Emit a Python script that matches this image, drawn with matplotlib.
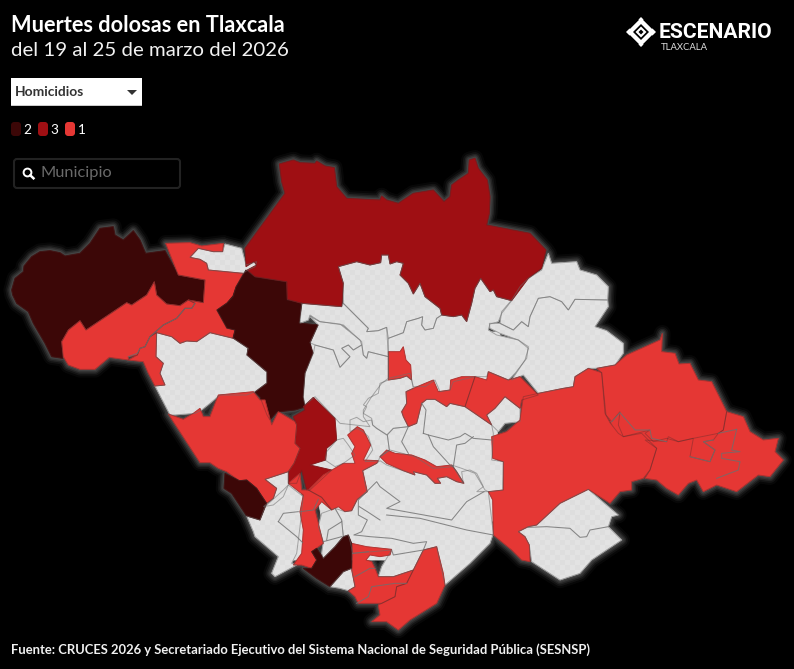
import numpy as np
import matplotlib
matplotlib.use("Agg")
import matplotlib.pyplot as plt
from matplotlib.path import Path
from matplotlib.patches import PathPatch, Polygon, Rectangle, FancyBboxPatch, Circle

TITLE = "Muertes dolosas en Tlaxcala"
SUBTITLE = "del 19 al 25 de marzo del 2026"
SOURCE = "Fuente: CRUCES 2026 y Secretariado Ejecutivo del Sistema Nacional de Seguridad Pública (SESNSP)"
DROPDOWN = "Homicidios"
SEARCH = "Municipio"
LEGEND_VALUES = [2, 3, 1]
COLORS = {2: "#3c0707", 3: "#9f0f13", 1: "#e53734", 0: "#dedede"}
ORIG = {"a": (0, 140), "b": (240, 140), "c": (480, 240), "d": (150, 390), "e": (280, 440), "h": (300, 300), "p": (0, 0)}

# interior fill under the municipalities: (crop, class, outline)
UNDERLAY = [
 ("p", 0, [(312,332),(500,332),(495,520),(400,560),(330,560),(308,450)]),
 ("p", 0, [(278,490),(300,480),(305,560),(290,560)]),
 ("c", 1, [(370,500),(740,520),(730,600),(640,650),(530,640),(420,600)]),
 ("c", 1, [(630,590),(740,530),(785,630),(720,705),(640,700),(630,650)]),
]

# map regions: (crop, homicide class, outline)
REGIONS = [
 ("a", 0, [(570,352),(595,325),(640,335),(668,335),(675,312),(725,325),(738,375),(770,365),(765,380),(740,392),(730,400),(625,390),(620,370),(600,358)]),
 ("a", 0, [(470,578),(515,590),(540,610),(560,603),(590,605),(630,578),(700,595),(745,625),(740,645),(800,695),(800,730),(765,755),(740,765),(660,765),(630,790),(605,810),(585,820),(525,825),(510,825),(465,738),(495,735),(480,700),(490,670),(468,650)]),
 ("b", 0, [(295,380),(350,365),(390,375),(422,368),(425,345),(445,345),(450,372),(470,365),(490,370),(480,405),(505,430),(520,462),(540,430),(555,470),(600,505),(605,525),(590,535),(580,565),(555,570),(545,555),(548,530),(535,535),(500,545),(490,578),(445,595),(440,562),(415,572),(380,575),(385,565),(365,545),(310,490),(310,430)]),
 ("b", 0, [(305,500),(310,490),(365,545),(385,565),(380,575),(415,572),(440,562),(445,650),(385,635),(380,655),(370,645),(365,605),(310,555),(240,545),(210,525),(205,540),(180,550),(185,490)]),
 ("b", 0, [(210,530),(240,545),(300,552),(360,600),(365,615),(340,630),(325,615),(305,625),(330,650),(300,682),(280,630),(225,615),(210,608),(235,555)]),
 ("b", 0, [(225,615),(280,630),(300,682),(330,650),(305,625),(325,615),(340,630),(365,615),(370,645),(380,655),(385,635),(445,650),(445,715),(425,730),(395,770),(370,810),(370,830),(390,860),(300,850),(225,770),(195,795),(190,770),(195,700),(220,640)]),
 ("b", 0, [(445,595),(490,578),(500,545),(535,535),(548,530),(545,555),(555,570),(580,565),(590,535),(605,525),(640,530),(665,525),(680,545),(695,490),(705,445),(722,415),(750,455),(760,450),(770,470),(815,482),(785,520),(775,545),(750,552),(745,570),(770,585),(835,600),(865,620),(860,655),(825,700),(805,720),(745,695),(740,710),(705,710),(640,725),(630,750),(600,755),(585,720),(555,740),(520,740),(510,700),(445,715),(445,650)]),
 ("c", 0, [(60,250),(65,215),(95,180),(120,140),(145,115),(185,90),(205,40),(215,70),(290,65),(300,90),(350,105),(385,140),(383,180),(285,178),(265,210),(245,185),(210,170),(175,175),(150,230),(145,260),(125,245),(100,270)]),
 ("c", 0, [(175,175),(210,170),(245,185),(265,210),(285,178),(383,180),(385,200),(345,260),(380,272),(430,310),(430,340),(405,375),(350,385),(325,385),(285,410),(280,440),(250,445),(175,460),(130,405),(95,420),(135,360),(145,325),(115,300),(60,280),(30,265),(28,250),(60,250),(100,270),(125,245),(145,260),(150,230)]),
 ("h", 0, [(265,240),(300,235),(320,228),(335,240),(340,265),(318,275),(320,310),(305,335),(310,350),(325,380),(280,385),(260,405),(230,385),(218,375),(215,355),(190,340),(200,320),(190,315),(205,295),(235,280),(240,250)]),
 ("h", 0, [(150,360),(170,352),(190,365),(215,360),(218,375),(230,385),(262,405),(268,450),(240,470),(235,483),(195,485),(218,450),(205,410),(190,395),(170,385),(150,395)]),
 ("h", 0, [(80,455),(110,420),(130,415),(145,435),(165,465),(130,490),(105,500),(75,480)]),
 ("h", 0, [(615,290),(660,325),(660,365),(615,370),(595,395),(575,375),(560,345),(585,325)]),
 ("h", 0, [(262,405),(280,385),(325,380),(350,370),(365,310),(380,298),(405,298),(440,320),(450,310),(495,320),(575,375),(580,400),(575,480),(610,485),(608,570),(570,575),(530,575),(550,560),(530,520),(510,510),(485,515),(490,550),(460,500),(400,505),(345,470),(270,450),(240,470),(268,450)]),
 ("d", 0, [(345,268),(415,245),(415,285),(400,320),(370,345),(340,350),(370,325),(380,295)]),
 ("d", 0, [(290,378),(330,390),(345,350),(400,300),(415,285),(460,320),(455,360),(450,410),(440,490),(425,520),(440,525),(375,560),(365,550),(385,500),(315,440),(310,425),(295,390)]),
 ("e", 0, [(248,92),(290,70),(300,62),(320,75),(405,105),(400,95),(440,105),(465,130),(482,130),(472,115),(500,110),(530,125),(552,130),(530,95),(515,75),(545,85),(585,100),(615,150),(625,155),(640,280),(630,310),(600,340),(570,370),(495,435),(470,320),(430,330),(400,390),(340,410),(295,410),(305,380),(335,330),(218,340),(212,310),(205,285),(190,290),(185,240),(165,205),(195,215),(215,212),(232,178),(260,155)]),
 ("e", 0, [(165,205),(125,220),(115,260),(130,305),(125,340),(130,355),(165,320),(190,290),(185,240)]),
 ("e", 0, [(150,440),(190,395),(215,385),(225,440),(205,452),(180,445)]),
 ("c", 0, [(115,875),(145,860),(170,855),(240,790),(325,748),(415,825),(395,830),(385,860),(425,900),(335,960),(300,1000),(240,1020),(155,965),(148,915),(135,890)]),
 ("a", 2, [(35,450),(45,415),(70,395),(72,378),(95,350),(120,335),(150,332),(180,338),(195,348),(240,340),(270,310),(300,265),(340,260),(345,285),(370,300),(400,272),(420,300),(437,340),(495,332),(535,405),(615,420),(610,488),(565,480),(540,497),(500,492),(470,465),(463,425),(440,465),(395,495),(380,488),(258,570),(240,542),(205,570),(185,605),(188,655),(155,650),(135,610),(100,550),(85,515),(50,490),(38,465)]),
 ("a", 1, [(185,605),(205,570),(240,542),(258,570),(380,488),(395,495),(440,465),(463,425),(470,465),(500,492),(540,497),(565,480),(585,490),(575,505),(555,505),(530,535),(490,555),(450,590),(435,620),(420,625),(412,645),(385,650),(385,660),(328,652),(285,688),(240,688),(205,675),(190,650)]),
 ("a", 1, [(497,310),(570,308),(605,318),(670,310),(668,335),(640,335),(595,325),(570,352),(600,358),(620,370),(625,390),(730,400),(708,440),(700,470),(680,490),(650,510),(680,565),(705,570),(700,595),(630,578),(590,605),(560,603),(540,610),(515,590),(470,578),(450,590),(490,555),(530,535),(555,505),(575,505),(585,490),(565,480),(610,488),(615,420),(535,405)]),
 ("a", 1, [(450,590),(470,578),(468,650),(490,670),(480,700),(495,735),(465,738),(445,700),(430,665),(385,660),(412,645),(420,625),(435,620)]),
 ("p", 2, [(246,270),(255,277),(287,282),(287,300),(302,303),(299,323),(318,325),(310,343),(313,353),(305,373),(303,397),(305,407),(295,410),(277,412),(270,420),(267,415),(260,397),(255,392),(267,383),(267,372),(247,355),(248,348),(233,338),(235,330),(227,328),(217,310),(227,303),(233,296),(236,287)]),
 ("b", 3, [(118,72),(160,60),(180,68),(225,70),(230,63),(255,78),(283,83),(290,140),(320,175),(375,178),(420,180),(425,168),(440,180),(475,190),(520,160),(580,150),(612,185),(630,170),(635,135),(655,120),(685,100),(688,60),(705,55),(715,85),(742,120),(750,170),(748,220),(740,255),(870,280),(918,330),(905,385),(865,415),(815,482),(770,470),(760,450),(750,455),(722,415),(705,445),(695,490),(680,545),(665,525),(640,530),(605,525),(600,505),(555,470),(540,430),(520,462),(505,430),(480,405),(490,370),(470,365),(450,372),(445,345),(425,345),(422,368),(390,375),(350,365),(295,380),(310,430),(305,500),(185,490),(142,478),(140,425),(45,410),(22,390),(50,375),(42,365),(18,380),(15,325),(135,160),(125,125)]),
 ("h", 1, [(265,155),(300,155),(310,140),(318,180),(332,195),(335,240),(320,228),(300,235),(265,240)]),
 ("h", 1, [(340,265),(380,248),(400,240),(415,275),(450,270),(452,240),(485,230),(525,230),(495,320),(450,310),(440,320),(405,298),(380,298),(365,310),(350,370),(325,380),(310,350),(305,335),(320,310),(318,275)]),
 ("h", 1, [(525,230),(560,240),(565,215),(625,240),(660,230),(715,285),(665,300),(660,325),(615,290),(585,325),(560,345),(575,375),(495,320)]),
 ("c", 1, [(125,505),(130,470),(175,460),(250,445),(280,440),(285,410),(325,385),(365,398),(375,520),(390,548),(415,580),(430,590),(485,580),(520,615),(530,625),(510,690),(490,715),(455,725),(455,750),(420,755),(390,790),(325,748),(240,790),(170,855),(145,860),(115,875),(135,890),(148,915),(150,965),(125,960),(95,930),(40,885),(38,780),(25,755),(70,750),(70,665),(38,655),(35,590),(80,575),(120,540)]),
 ("c", 1, [(350,385),(405,375),(440,345),(540,300),(547,280),(545,335),(585,340),(597,372),(630,370),(655,420),(695,425),(740,515),(730,570),(715,580),(640,595),(595,605),(560,595),(520,605),(495,580),(510,570),(430,590),(415,555),(420,515),(395,545),(378,525),(365,398)]),
 ("c", 1, [(530,625),(495,600),(560,605),(565,590),(595,605),(640,595),(630,650),(690,665),(705,630),(670,605),(700,600),(715,580),(730,570),(740,515),(790,530),(810,575),(850,600),(895,595),(885,635),(910,660),(870,710),(835,705),(770,755),(710,735),(670,755),(650,720),(625,730),(595,765),(560,745),(530,720),(495,715),(510,690)]),
 ("d", 3, [(460,50),(490,22),(555,85),(560,150),(530,175),(527,210),(480,225),(545,240),(480,300),(470,300),(455,240),(440,280),(415,280),(415,245),(432,220),(450,175),(435,160),(440,105),(430,80),(465,60)]),
 ("d", 1, [(55,72),(100,88),(130,70),(150,55),(160,80),(180,80),(205,15),(310,5),(330,30),(345,30),(365,105),(385,65),(435,95),(440,105),(435,160),(450,175),(432,220),(415,245),(345,268),(380,295),(370,325),(350,340),(320,295),(290,270),(268,272),(230,245),(205,235),(180,218),(150,218)]),
 ("d", 2, [(225,250),(268,272),(290,270),(320,295),(350,340),(330,390),(290,378),(245,310),(222,295)]),
 ("e", 1, [(85,150),(130,105),(190,70),(225,70),(215,40),(225,20),(203,-15),(232,-40),(250,-30),(272,15),(250,60),(295,62),(290,70),(248,92),(262,155),(232,178),(215,212),(195,215),(175,200),(155,210),(125,172)]),
 ("e", 1, [(25,130),(60,100),(65,150),(85,150),(125,172),(155,210),(125,185),(105,210),(130,310),(95,335),(110,360),(95,385),(65,375),(40,375),(65,340),(70,270),(60,215),(70,165)]),
 ("e", 1, [(300,50),(320,30),(345,40),(395,45),(435,60),(470,80),(515,75),(530,95),(552,130),(530,125),(500,110),(472,115),(482,130),(465,130),(440,105),(400,95),(405,105),(370,92),(320,70)]),
 ("e", 1, [(215,310),(260,320),(335,328),(330,345),(300,350),(270,345),(258,360),(275,365),(285,385),(295,410),(340,410),(400,390),(380,430),(350,440),(345,470),(305,490),(235,490),(225,470),(205,452),(225,440),(215,390),(218,340)]),
 ("e", 1, [(430,330),(470,320),(490,400),(495,435),(470,490),(390,540),(355,570),(320,545),(275,545),(300,525),(295,495),(345,470),(350,440),(380,430),(400,390)]),
 ("e", 2, [(190,290),(205,285),(215,310),(215,385),(190,395),(150,440),(110,415),(70,385),(95,385),(110,360),(95,335),(110,325),(130,355),(165,320)]),
]

# interior boundaries: (crop, polyline)
BOUNDARIES = [
 ("c", [(145,862),(200,860),(270,865),(300,892),(320,890),(330,870),(385,860)]),
 ("c", [(395,545),(420,518),(465,570),(510,570),(515,595),(560,605)]),
 ("c", [(630,650),(690,665),(705,630),(670,605),(700,600)]),
 ("c", [(770,568),(755,630),(780,635),(725,640),(725,655),(780,665),(775,690),(710,715)]),
 ("c", [(715,580),(770,568)]),
 ("h", [(370,400),(385,405),(445,420),(480,410),(495,400),(520,415),(575,420)]),
 ("h", [(385,405),(400,440),(450,495),(460,500),(470,435),(495,430),(520,410)]),
 ("h", [(370,400),(378,330),(365,310)]),
 ("h", [(325,380),(305,425),(325,460)]),
 ("e", [(222,285),(245,275),(262,240),(235,225),(235,180),(290,125),(300,140),(360,185),(320,205),(515,240),(560,185),(612,155)]),
 ("e", [(320,225),(420,235),(560,270),(640,285)]),
 ("e", [(225,285),(270,290),(335,295),(400,310),(440,305),(430,330),(340,345),(335,330)]),
 ("e", [(238,200),(262,215),(300,240)]),
 ("e", [(140,300),(145,270),(185,245)]),
 ("e", [(130,305),(185,290)]),
 ("e", [(230,490),(265,470),(275,440),(345,430),(380,430)]),
 ("e", [(218,340),(265,335)]),
 ("e", [(225,410),(270,385),(285,385)]),
 ("e", [(60,215),(100,210),(115,178)]),
 ("d", [(385,395),(400,370),(445,365)]),
 ("d", [(385,395),(440,440),(458,458)]),
 ("a", [(385,650),(412,640),(420,625),(435,620),(450,590),(490,555),(530,535),(555,505),(575,505),(585,490)]),
]

def to_px(crop, pts):
    ox, oy = ORIG[crop]
    return [(ox + x / 3, oy + y / 3) if crop != "p" else (x, y) for x, y in pts]

def compound(polys):
    verts, codes = [], []
    for p in polys:
        verts += p + [p[0]]
        codes += [Path.MOVETO] + [Path.LINETO] * (len(p) - 1) + [Path.CLOSEPOLY]
    return Path(verts, codes)

plt.rcParams["font.family"] = ["Lato", "DejaVu Sans"]
fig = plt.figure(figsize=(7.94, 6.69), dpi=100, facecolor="black")
ax = fig.add_axes([0, 0, 1, 1])
ax.set_xlim(0, 794)
ax.set_ylim(669, 0)
ax.axis("off")

polys = [(v, to_px(c, p)) for c, v, p in REGIONS]
under = [(v, to_px(c, p)) for c, v, p in UNDERLAY]
all_path = compound([p for _, p in polys])
# glow around the state outline
for lw, a in [(12, .03), (9, .05), (6.5, .07), (4.5, .08), (2.5, .08)]:
    ax.add_patch(PathPatch(all_path, fill=False, edgecolor="white", alpha=a, lw=lw, zorder=1, joinstyle="round"))

for v, p in under + polys:
    ax.add_patch(Polygon(p, closed=True, facecolor=COLORS[v], edgecolor=COLORS[v], lw=0.6,
                         zorder=3 if v else 2))
# checker texture on zero municipalities
n = 5
yy, xx = np.mgrid[0:669, 0:794]
chk = ((xx // n + yy // n) % 2).astype(float)
rgba = np.zeros((669, 794, 4))
rgba[..., :3] = 1
rgba[..., 3] = chk * 0.16
im = ax.imshow(rgba, extent=(0, 794, 669, 0), zorder=2.5, aspect="auto", interpolation="bilinear")
im.set_clip_path(PathPatch(compound([p for v, p in under + polys if v == 0]), transform=ax.transData))
ax.set_xlim(0, 794)
ax.set_ylim(669, 0)

for v, p in polys:
    ax.add_patch(Polygon(p, closed=True, fill=False, edgecolor="#6e6e6e" if v == 0 else "#4a2a2a",
                         lw=0.7, alpha=.55 if v == 0 else .35, zorder=4))
for c, line in BOUNDARIES:
    q = np.array(to_px(c, line))
    ax.plot(q[:, 0], q[:, 1], color="#6e6e6e", lw=0.75, alpha=.8, zorder=4)

# header
ax.text(11, 25, TITLE, color="white", fontsize=15.7, fontweight="bold", va="center", zorder=6)
ax.text(11, 51, SUBTITLE, color="#f2f2f2", fontsize=14.7, va="center", zorder=6)

# dropdown
ax.add_patch(Rectangle((11, 78), 131, 28, facecolor="white", edgecolor="none", zorder=6))
ax.add_patch(Rectangle((11, 105), 131, 1, facecolor="#cccccc", edgecolor="none", zorder=6))
ax.text(15, 92, DROPDOWN, color="#333333", fontsize=9.9, fontweight="bold", va="center", zorder=7)
ax.add_patch(Polygon([(127, 90), (137, 90), (132, 95)], closed=True, facecolor="#333333", edgecolor="none", zorder=7))

# legend
for x, v in zip([11, 38, 65], LEGEND_VALUES):
    ax.add_patch(FancyBboxPatch((x + .7, 122.7), 8.6, 12.6, boxstyle="round,pad=0,rounding_size=2.5",
                                facecolor=COLORS[v], edgecolor=COLORS[v], lw=1, zorder=6))
    ax.text(x + 12.5, 129.5, str(v), color="white", fontsize=9.8, va="center", zorder=6)

# search box
ax.add_patch(FancyBboxPatch((14, 159), 166, 29, boxstyle="round,pad=0,rounding_size=3",
                            facecolor="black", edgecolor="#222222", lw=1.5, zorder=6))
ax.add_patch(Circle((27.5, 172.5), 3.9, fill=False, edgecolor="white", lw=1.4, zorder=7))
ax.plot([30.3, 33.5], [175.3, 178.3], color="white", lw=1.8, zorder=7)
ax.text(41, 173.5, SEARCH, color="#6a6a6a", fontsize=11.8, va="center", zorder=7)

# logo
cx, cy = 641, 32
ax.add_patch(Polygon([(cx - 15, cy), (cx, cy - 15), (cx + 15, cy), (cx, cy + 15)], closed=True, facecolor="white", edgecolor="none", zorder=6))
ax.add_patch(Polygon([(cx - 8, cy), (cx, cy - 8), (cx + 8, cy), (cx, cy + 8)], closed=True, facecolor="black", edgecolor="none", zorder=7))
ax.add_patch(Polygon([(cx - 5.5, cy), (cx, cy - 5.5), (cx + 5.5, cy), (cx, cy + 5.5)], closed=True, facecolor="white", edgecolor="none", zorder=8))
ax.add_patch(Polygon([(cx - 2.5, cy), (cx, cy - 2.5), (cx + 2.5, cy), (cx, cy + 2.5)], closed=True, facecolor="black", edgecolor="none", zorder=9))
for a, b in [((cx - 11, cy - 4), (cx - 3, cy - 12)), ((cx + 3, cy + 12), (cx + 11, cy + 4)), ((cx + 3, cy - 12), (cx + 11, cy - 4)), ((cx - 11, cy + 4), (cx - 3, cy + 12))]:
    ax.plot([a[0], b[0]], [a[1], b[1]], color="black", lw=0.9, zorder=7)
ax.text(659, 32.5, "ESCENARIO", color="white", fontsize=15.1, fontweight="bold",
        family=["Liberation Sans Narrow", "Roboto"], va="center", zorder=6)
ax.text(661, 48, "TLAXCALA", color="#dddddd", fontsize=6.8, va="center", zorder=6)

# footer
ax.text(11, 650, SOURCE, color="#f0f0f0", fontsize=9.4, fontweight="bold", va="center", zorder=6)

fig.savefig("out.png", dpi=100, facecolor="black")
